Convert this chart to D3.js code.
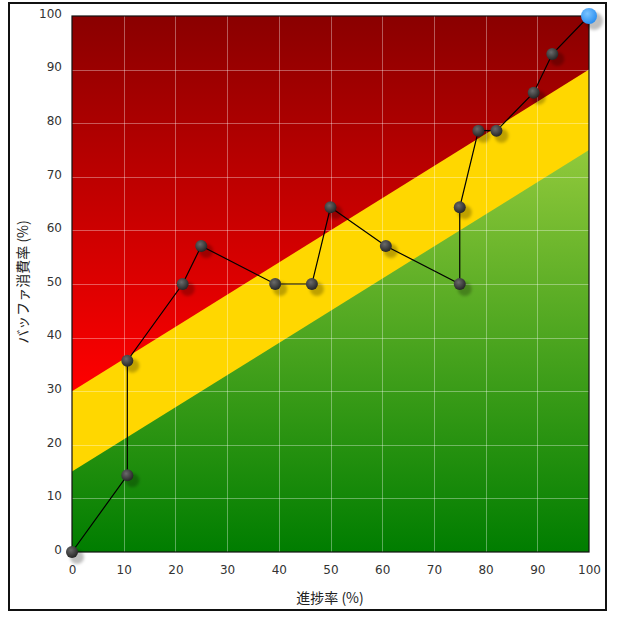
<!DOCTYPE html>
<html><head><meta charset="utf-8">
<script src="https://cdn.jsdelivr.net/npm/d3@7"></script>
<style>html,body{margin:0;padding:0;background:#fff;}svg{display:block;}</style>
</head><body>
<svg id="chart" width="625" height="620"></svg>
<script>
const progress = [0, 10.7, 10.7, 21.4, 25, 39.3, 46.4, 50, 60.7, 75, 75, 78.6, 82.1, 89.3, 92.9, 100];
const buffer   = [0, 14.3, 35.7, 50, 57.1, 50, 50, 64.3, 57.1, 50, 64.3, 78.6, 78.6, 85.7, 92.9, 100];
const ticks = [0, 10, 20, 30, 40, 50, 60, 70, 80, 90, 100];
// zone boundaries: [progress, buffer] at both ends
const greenTop = [[0, 15], [100, 75]];
const yellowTop = [[0, 30], [100, 90]];
const xTitle = "進捗率 (%)";
const yTitle = "バッファ消費率 (%)";

const svg = d3.select("#chart");
const L = 72, R = 589, T = 16, B = 552;
const x = d3.scaleLinear().domain([0, 100]).range([L, R]);
const y = d3.scaleLinear().domain([0, 100]).range([B, T]);

const defs = svg.append("defs");
function vgrad(id, y1, y2, c1, c2) {
  const g = defs.append("linearGradient").attr("id", id)
    .attr("gradientUnits", "userSpaceOnUse").attr("x1", 0).attr("y1", y1).attr("x2", 0).attr("y2", y2);
  g.append("stop").attr("offset", 0).attr("stop-color", c1);
  g.append("stop").attr("offset", 1).attr("stop-color", c2);
}
vgrad("gRed", T, y(yellowTop[0][1]), "#8a0000", "#ff0000");
vgrad("gGreen", y(greenTop[1][1]), B, "#90c93b", "#007d00");
const rg = defs.append("radialGradient").attr("id", "gBall").attr("cx", "40%").attr("cy", "35%").attr("r", "65%");
rg.append("stop").attr("offset", 0).attr("stop-color", "#6a6a6a");
rg.append("stop").attr("offset", 1).attr("stop-color", "#262626");
const rb = defs.append("radialGradient").attr("id", "gBlue").attr("cx", "40%").attr("cy", "35%").attr("r", "65%");
rb.append("stop").attr("offset", 0).attr("stop-color", "#7cc4ff");
rb.append("stop").attr("offset", 1).attr("stop-color", "#2b8ff0");
const f = defs.append("filter").attr("id", "blur").attr("x", "-1").attr("y", "-1").attr("width", 3).attr("height", 3);
f.append("feGaussianBlur").attr("stdDeviation", 1.8);
defs.append("clipPath").attr("id", "clip").append("rect")
  .attr("x", L).attr("y", T).attr("width", R - L).attr("height", B - T);

// outer frame
svg.append("rect").attr("x", 9).attr("y", 3).attr("width", 597).attr("height", 607)
  .attr("fill", "#fff").attr("stroke", "#111").attr("stroke-width", 2);

const plot = svg.append("g").attr("clip-path", "url(#clip)");
plot.append("rect").attr("x", L).attr("y", T).attr("width", R - L).attr("height", B - T).attr("fill", "url(#gRed)");
const poly = pts => pts.map(p => [x(p[0]), y(p[1])].join(",")).join(" ");
plot.append("polygon").attr("fill", "#ffd700")
  .attr("points", poly([[0, 0], yellowTop[0], yellowTop[1], [100, 0]]));
plot.append("polygon").attr("fill", "url(#gGreen)")
  .attr("points", poly([[0, 0], greenTop[0], greenTop[1], [100, 0]]));

// grid
const grid = svg.append("g").attr("stroke", "rgba(255,255,255,0.35)").attr("stroke-width", 1);
ticks.slice(1, -1).forEach(t => {
  grid.append("line").attr("x1", Math.round(x(t)) + 0.5).attr("x2", Math.round(x(t)) + 0.5).attr("y1", T).attr("y2", B);
  grid.append("line").attr("y1", Math.round(y(t)) + 0.5).attr("y2", Math.round(y(t)) + 0.5).attr("x1", L).attr("x2", R);
});

svg.append("rect").attr("x", L).attr("y", T).attr("width", R - L).attr("height", B - T)
  .attr("fill", "none").attr("stroke", "#111").attr("stroke-width", 1.2);

// axes
const xAxis = svg.append("g").attr("transform", `translate(0,${B + 9})`)
  .call(d3.axisBottom(x).tickValues(ticks).tickSize(0).tickPadding(4));
const yAxis = svg.append("g").attr("transform", `translate(${L - 8},0)`)
  .call(d3.axisLeft(y).tickValues(ticks).tickSize(0).tickPadding(2));
[xAxis, yAxis].forEach(a => {
  a.select(".domain").remove();
  a.selectAll("text").attr("font-family", "'DejaVu Sans', sans-serif").attr("font-size", 12).attr("fill", "#333");
});
yAxis.selectAll("text").attr("dy", "0.1em");

svg.append("text").attr("x", 330).attr("y", 603).attr("text-anchor", "middle")
  .attr("font-family", "'Noto Sans CJK JP', sans-serif").attr("font-size", 14).attr("fill", "#222").text(xTitle);
svg.append("text").attr("transform", `translate(28,${(T + B) / 2 - 2}) rotate(-90)`).attr("text-anchor", "middle")
  .attr("font-family", "'Noto Sans CJK JP', sans-serif").attr("font-size", 14).attr("fill", "#222").text(yTitle);

// data
const data = progress.map((p, i) => ({ p, b: buffer[i], last: i === progress.length - 1 }));
svg.append("g").selectAll("circle").data(data).join("circle")
  .attr("cx", d => x(d.p) + 5).attr("cy", d => y(d.b) + 5).attr("r", d => d.last ? 9 : 7)
  .attr("fill", "rgba(0,0,0,0.25)").attr("filter", "url(#blur)");
svg.append("path").datum(data)
  .attr("d", d3.line().x(d => x(d.p)).y(d => y(d.b)))
  .attr("fill", "none").attr("stroke", "#000").attr("stroke-width", 1.2);
svg.append("g").selectAll("circle").data(data).join("circle")
  .attr("cx", d => x(d.p)).attr("cy", d => y(d.b)).attr("r", d => d.last ? 8 : 6)
  .attr("fill", d => d.last ? "url(#gBlue)" : "url(#gBall)");
</script>
</body></html>
